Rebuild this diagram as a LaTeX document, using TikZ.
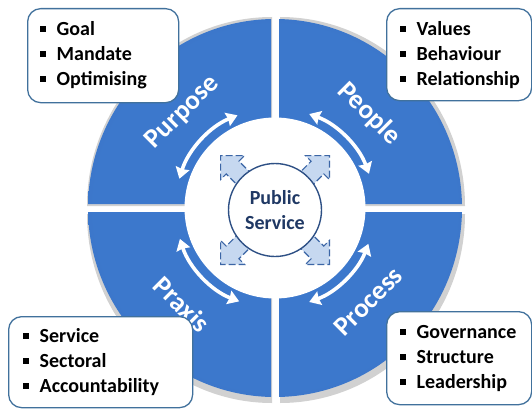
\documentclass[tikz,border=0pt]{standalone}
\usepackage{fontspec}
\setmainfont{Carlito}
\usetikzlibrary{calc,arrows.meta}
\definecolor{qA}{HTML}{3C78CC}
\definecolor{qB}{HTML}{346BBC}
\definecolor{qC}{HTML}{2D5EAA}
\definecolor{qD}{HTML}{2A579E}
\definecolor{boxline}{HTML}{41719C}
\definecolor{navytxt}{HTML}{1F3864}
\definecolor{psline}{HTML}{2E5085}
\definecolor{arrfill}{HTML}{C6D8F0}
\definecolor{arrline}{HTML}{3C66A6}
\pgfdeclareradialshading{quadshade}{\pgfpointorigin}{color(0bp)=(qA); color(24bp)=(qA); color(38bp)=(qB); color(46bp)=(qC); color(50bp)=(qD)}
\newcommand\qpTR{(279,204) -- ++(185,0) arc[start angle=0,end angle=90,x radius=185,y radius=189] -- cycle}
\newcommand\qpTL{(271,204) -- ++(0,189) arc[start angle=90,end angle=180,x radius=185,y radius=189] -- cycle}
\newcommand\qpBL{(271,196) -- ++(-185,0) arc[start angle=180,end angle=270,x radius=185,y radius=189] -- cycle}
\newcommand\qpBR{(279,196) -- ++(0,-189) arc[start angle=270,end angle=360,x radius=185,y radius=189] -- cycle}
\newcommand\bitem[1]{\mbox{\rule[3.5pt]{6pt}{6pt}\hspace{11pt}#1}}
\tikzset{
  listbox/.style={draw=boxline, line width=1.3pt, rounded corners=13pt, fill=white,
    anchor=north west, align=left, inner ysep=0pt,
    font=\fontsize{20}{25}\selectfont\bfseries},
  quadlabel/.style={text=white, font=\fontsize{27}{30}\selectfont\bfseries, inner sep=0pt},
  warrow/.style={draw=white, line width=3.6pt,
    {Stealth[length=11pt,width=14pt,inset=1pt]}-{Stealth[length=11pt,width=14pt,inset=1pt]}},
  diagarrow/.style={fill=arrfill, draw=arrline, line width=1.1pt, dash pattern=on 7pt off 3pt, line join=miter},
  pscircle/.style={circle, draw=psline, line width=1.4pt, fill=white, minimum size=93pt,
    align=center, text=navytxt, font=\fontsize{20}{25}\selectfont\bfseries, inner sep=0pt},
  qshadow/.style={fill=black, opacity=0.18}
}
\begin{document}
\begin{tikzpicture}[x=1pt,y=1pt]
\useasboundingbox (0,0) rectangle (532,408);
\fill[white] (0,0) rectangle (532,408);
\coordinate (c) at (275,200);
% shadows of quadrants
\begin{scope}[shift={(1,-2)}]
  \fill[qshadow] \qpTR; \fill[qshadow] \qpTL; \fill[qshadow] \qpBL; \fill[qshadow] \qpBR;
\end{scope}
% quadrants
\begin{scope}\clip \qpTR; \shade[shading=quadshade] (c) ellipse[x radius=187,y radius=189]; \end{scope}
\begin{scope}\clip \qpTL; \shade[shading=quadshade] (c) ellipse[x radius=187,y radius=189]; \end{scope}
\begin{scope}\clip \qpBL; \shade[shading=quadshade] (c) ellipse[x radius=187,y radius=189]; \end{scope}
\begin{scope}\clip \qpBR; \shade[shading=quadshade] (c) ellipse[x radius=187,y radius=189]; \end{scope}
% white inner disc
\fill[white] (c) circle (90.5);
% diagonal block arrows
\foreach \a in {45,135,225,315}{
  \begin{scope}[shift={(275,198)}, rotate=\a]
    \draw[diagarrow] (40,-9) -- (60,-9) -- (60,-17) -- (77,0) -- (60,17) -- (60,9) -- (40,9) -- cycle;
  \end{scope}
}
% centre
\node[pscircle] (ps) at (275,198) {Public\\Service};
% curved double arrows
\draw[warrow] ($(c)+(20:100)$) arc[start angle=20,end angle=70,radius=100];
\draw[warrow] ($(c)+(112:100)$) arc[start angle=112,end angle=163,radius=100];
\draw[warrow] ($(c)+(198:100)$) arc[start angle=198,end angle=249,radius=100];
\draw[warrow] ($(c)+(290:100)$) arc[start angle=290,end angle=339,radius=100];
% quadrant labels
\node[quadlabel, rotate=45] (purpose) at ($(c)+(134:133)$) {Purpose};
\node[quadlabel, rotate=-45] (people) at ($(c)+(45:133)$) {People};
\node[quadlabel, rotate=-45] (praxis) at ($(c)+(226:134)$) {Praxis};
\node[quadlabel, rotate=45] (process) at ($(c)+(315:132)$) {Process};
% boxes
\node[listbox, minimum width=151pt, minimum height=94pt, inner xsep=12pt, text width=127pt] (boxTL) at (27,400)
  {\bitem{Goal}\\\bitem{Mandate}\\\bitem{Optimising}};
\node[listbox, minimum width=145pt, minimum height=92pt, inner xsep=13pt, text width=119pt] (boxTR) at (386,400)
  {\bitem{Values}\\\bitem{Behaviour}\\\bitem{Relationship}};
\node[listbox, minimum width=184pt, minimum height=91pt, inner xsep=14pt, text width=156pt] (boxBL) at (8,92)
  {\bitem{Service}\\\bitem{Sectoral}\\\bitem{Accountability}};
\node[listbox, minimum width=145pt, minimum height=93pt, inner xsep=13pt, text width=119pt] (boxBR) at (386,97)
  {\bitem{Governance}\\\bitem{Structure}\\\bitem{Leadership}};
\end{tikzpicture}
\end{document}
